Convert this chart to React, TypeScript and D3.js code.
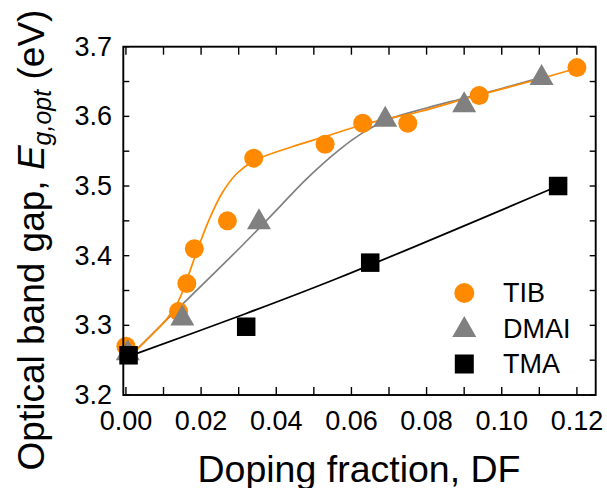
import React from "react";
import * as d3 from "d3";

// ---- data ----
const tibX = [0.0, 0.014, 0.0162, 0.0182, 0.027, 0.034, 0.053, 0.063, 0.075, 0.094, 0.12];
const tibY = [3.27, 3.32, 3.36, 3.41, 3.45, 3.54, 3.56, 3.59, 3.59, 3.63, 3.67];

const dmaiX = [0.0005, 0.015, 0.0354, 0.069, 0.09, 0.1106];
const dmaiY = [3.265, 3.315, 3.453, 3.60, 3.621, 3.66];

const tmaX = [0.0007, 0.032, 0.065, 0.115];
const tmaY = [3.257, 3.298, 3.39, 3.50];

// fitted guide curves
const tibFitX = [0.0015, 0.007, 0.011, 0.014, 0.0165, 0.019, 0.022, 0.0256, 0.0295, 0.034, 0.044, 0.053, 0.063, 0.0783, 0.0915, 0.1075, 0.12];
const tibFitY = [3.258, 3.287, 3.31, 3.335, 3.37, 3.408, 3.45, 3.49, 3.518, 3.536, 3.556, 3.571, 3.588, 3.607, 3.627, 3.65, 3.669];

const dmaiFitX = [0.0015, 0.015, 0.031, 0.04, 0.048, 0.057, 0.0632, 0.07, 0.08, 0.09, 0.1, 0.1106];
const dmaiFitY = [3.258, 3.33, 3.415, 3.465, 3.51, 3.553, 3.577, 3.596, 3.612, 3.626, 3.64, 3.656];

const tmaFitX = [0.0015, 0.032, 0.057, 0.115];
const tmaFitY = [3.257, 3.317, 3.369, 3.5];

const xTickLabels = ["0.00", "0.02", "0.04", "0.06", "0.08", "0.10", "0.12"];
const yTickLabels = ["3.2", "3.3", "3.4", "3.5", "3.6", "3.7"];
const legendNames = ["TIB", "DMAI", "TMA"];

const ORANGE = "#ff8a00";
const GRAY = "#808080";
const BLACK = "#000000";
const FONT = "'Liberation Sans', Arial, Helvetica, sans-serif";

export default function App() {
  const W = 607, H = 488;
  const left = 123.3, right = 595.7, top = 46.7, bottom = 395;
  const x = d3.scaleLinear().domain([-0.0007, 0.125]).range([left, right]);
  const y = d3.scaleLinear().domain([3.2, 3.7]).range([bottom, top]);

  const line = d3
    .line<[number, number]>()
    .x((d) => x(d[0]))
    .y((d) => y(d[1]))
    .curve(d3.curveCatmullRom.alpha(0.5));

  const zip = (a: number[], b: number[]) => a.map((v, i) => [v, b[i]] as [number, number]);

  const xMinor = d3.range(0, 13).map((i) => i * 0.01);
  const yMinor = d3.range(0, 11).map((i) => 3.2 + i * 0.05);

  const r = 9.5;
  const triW = 24, triH = 21;
  const sq = 18.5;
  const tri = (cx: number, cy: number) =>
    `M${cx},${cy - triH / 2}L${cx + triW / 2},${cy + triH / 2}L${cx - triW / 2},${cy + triH / 2}Z`;

  const legX = 464.3;
  const legRows = [293, 328.5, 364];

  return (
    <svg
      width={W}
      height={H}
      style={{ position: "absolute", left: 0, top: 0, background: "#fff" }}
      fontFamily={FONT}
    >
      <rect x={0} y={0} width={W} height={H} fill="#fff" />

      {/* fit lines */}
      <path d={line(zip(tmaFitX, tmaFitY)) || ""} fill="none" stroke={BLACK} strokeWidth={1.8} />
      <path d={line(zip(dmaiFitX, dmaiFitY)) || ""} fill="none" stroke={GRAY} strokeWidth={1.7} />
      <path d={line(zip(tibFitX, tibFitY)) || ""} fill="none" stroke={ORANGE} strokeWidth={1.7} />

      {/* markers */}
      {tibX.map((v, i) => (
        <circle key={"c" + i} cx={x(v)} cy={y(tibY[i])} r={r} fill={ORANGE} />
      ))}
      {dmaiX.map((v, i) => (
        <path key={"t" + i} d={tri(x(v), y(dmaiY[i]))} fill={GRAY} />
      ))}
      {tmaX.map((v, i) => (
        <rect key={"s" + i} x={x(v) - sq / 2} y={y(tmaY[i]) - sq / 2} width={sq} height={sq} fill={BLACK} />
      ))}

      {/* ticks */}
      {xMinor.map((v, i) => (
        <g key={"xt" + i} stroke={BLACK} strokeWidth={1.4}>
          <line x1={x(v)} x2={x(v)} y1={bottom} y2={bottom - 8} />
          <line x1={x(v)} x2={x(v)} y1={top} y2={top + 8} />
        </g>
      ))}
      {yMinor.map((v, i) => (
        <g key={"yt" + i} stroke={BLACK} strokeWidth={1.4}>
          <line x1={left} x2={left + 6} y1={y(v)} y2={y(v)} />
          <line x1={right} x2={right - 6} y1={y(v)} y2={y(v)} />
        </g>
      ))}

      {/* frame */}
      <rect x={left} y={top} width={right - left} height={bottom - top} fill="none" stroke={BLACK} strokeWidth={1.9} />

      {/* tick labels */}
      {xTickLabels.map((t) => (
        <text key={"xl" + t} x={x(+t)} y={429.5} fontSize={27} textAnchor="middle" fill={BLACK}>
          {t}
        </text>
      ))}
      {yTickLabels.map((t) => (
        <text key={"yl" + t} x={112} y={y(+t)} fontSize={27} textAnchor="end" dominantBaseline="central" fill={BLACK}>
          {t}
        </text>
      ))}

      {/* axis titles */}
      <text x={359} y={481.5} fontSize={37.5} textAnchor="middle" fill={BLACK}>
        Doping fraction, DF
      </text>
      <text
        transform={`translate(43.5,240) rotate(-90)`}
        fontSize={37}
        textAnchor="middle"
        fill={BLACK}
      >
        <tspan>Optical band gap, </tspan>
        <tspan fontStyle="italic">E</tspan>
        <tspan fontStyle="italic" fontSize={25} dy={7}>g,opt</tspan>
        <tspan dy={-7}> (eV)</tspan>
      </text>

      {/* legend */}
      <circle cx={legX} cy={legRows[0]} r={10} fill={ORANGE} />
      <path d={tri(legX, legRows[1] - 2)} fill={GRAY} />
      <rect x={legX - 9.5} y={legRows[2] - 9.5} width={19} height={19} fill={BLACK} />
      {legendNames.map((n, i) => (
        <text key={n} x={503} y={legRows[i]} fontSize={27} dominantBaseline="central" fill={BLACK}>
          {n}
        </text>
      ))}
    </svg>
  );
}
